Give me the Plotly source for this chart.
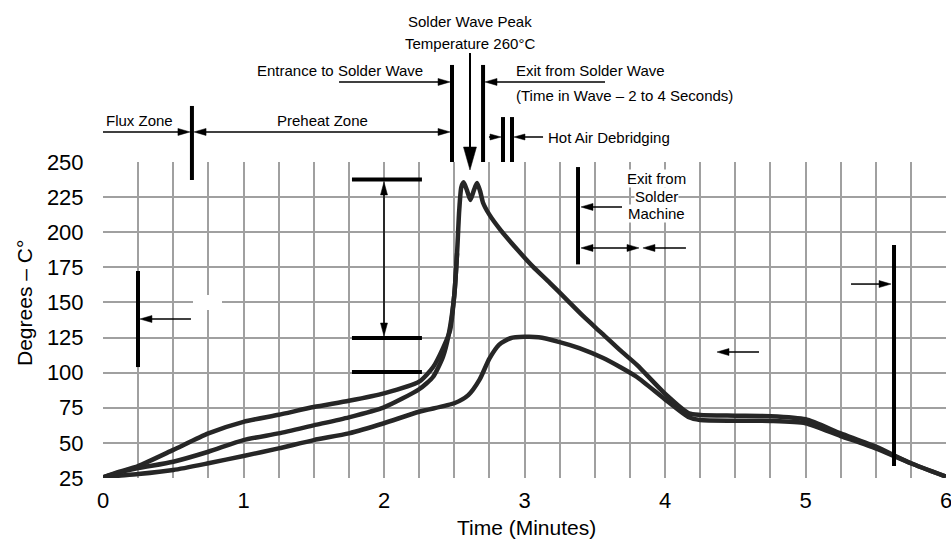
import math
import plotly.graph_objects as go

# ---------------- data (minutes, degrees C) ----------------
upper_time = [0, 0.1, 0.25, 0.5, 0.75, 1.0, 1.25, 1.5, 1.75, 2.0, 2.25, 2.35, 2.42, 2.47,
              2.5, 2.52, 2.535, 2.55, 2.567, 2.59, 2.615, 2.64, 2.662, 2.685, 2.705, 2.75,
              2.83, 2.95, 3.06, 3.18, 3.30, 3.42, 3.54, 3.68, 3.80, 4.0, 4.17, 4.25, 4.5,
              4.75, 5.0, 5.25, 5.5, 5.75, 6.0]
upper_temp = [25.5, 29, 33.5, 45, 56.8, 65, 70, 75.5, 80, 85.3, 93.6, 104, 117.5, 130,
              155, 185, 215, 232, 235.5, 230, 223, 230, 235, 229, 221, 212.5,
              201.5, 187.5, 175.5, 164, 152, 140, 129, 116, 105.5, 85, 71, 69.9, 69.4,
              69, 66.8, 56.8, 47.3, 35.5, 26]

middle_time = [0, 0.1, 0.25, 0.5, 0.75, 1.0, 1.25, 1.5, 1.75, 2.0, 2.25, 2.35, 2.42, 2.46, 2.5, 2.52]
middle_temp = [25.5, 28.5, 32, 36.6, 43.7, 52, 56.8, 62.5, 68.2, 75.3, 88.2, 97.1, 111.4, 127, 155, 185]

lower_time = [0, 0.1, 0.25, 0.5, 0.75, 1.0, 1.25, 1.5, 1.75, 2.0, 2.25, 2.5, 2.6, 2.68, 2.75,
              2.82, 2.9, 3.0, 3.1, 3.25, 3.39, 3.56, 3.68, 3.80, 4.0, 4.17, 4.25, 4.5, 4.75,
              5.0, 5.25, 5.5, 5.75, 6.0]
lower_temp = [25.5, 26.5, 27.8, 30.7, 35.5, 40.7, 46.1, 52, 56.8, 64, 72.2, 78.2, 84, 95, 110,
              120, 124.5, 125.5, 125.2, 121.8, 117.5, 110.4, 104, 96.9, 81, 68.2, 66.3, 65.8, 65.6,
              64, 54.9, 46.1, 35.5, 26]

x_tick_vals = [0, 1, 2, 3, 4, 5, 6]
x_tick_labels = ["0", "1", "2", "3", "4", "5", "6"]
y_tick_vals = [25, 50, 75, 100, 125, 150, 175, 200, 225, 250]
y_tick_labels = ["25", "50", "75", "100", "125", "150", "175", "200", "225", "250"]

# ---------------- geometry helpers ----------------
FIG_W, FIG_H = 951, 542
L, R, TOP, BOT = 103, 946, 162, 478
PW, PH = R - L, BOT - TOP
XMIN, XMAX, YMIN, YMAX = 0, 6, 25, 250
FONT = "Liberation Sans, Arial, Helvetica, sans-serif"
GRID = "#a0a0a0"
CURVE = "#262626"


def to_px(m, t):
    return L + (m - XMIN) * PW / (XMAX - XMIN), BOT - (t - YMIN) * PH / (YMAX - YMIN)


def to_paper(x, y):
    return (x - L) / PW, (BOT - y) / PH


shapes = []
annotations = []


def bar(m0, t0, m1, t1, width=4):
    x0, y0 = to_paper(*to_px(m0, t0))
    x1, y1 = to_paper(*to_px(m1, t1))
    shapes.append(dict(type="line", xref="paper", yref="paper", x0=x0, y0=y0, x1=x1, y1=y1,
                       line=dict(color="black", width=width)))


def head(tip, d, hl, hw):
    bx, by = tip[0] - d[0] * hl, tip[1] - d[1] * hl
    p = (-d[1], d[0])
    pts = [tip, (bx + p[0] * hw, by + p[1] * hw), (bx - p[0] * hw, by - p[1] * hw)]
    pp = [to_paper(*q) for q in pts]
    path = "M{:.5f},{:.5f} L{:.5f},{:.5f} L{:.5f},{:.5f} Z".format(*pp[0], *pp[1], *pp[2])
    shapes.append(dict(type="path", xref="paper", yref="paper", path=path,
                       fillcolor="black", line=dict(color="black", width=0.5)))


def arrow(m0, t0, m1, t1, hl=12, hw=3.5, lw=1.5, both=False):
    p0 = to_px(m0, t0)
    p1 = to_px(m1, t1)
    dx, dy = p1[0] - p0[0], p1[1] - p0[1]
    n = math.hypot(dx, dy)
    d = (dx / n, dy / n)
    s0 = (p0[0] + d[0] * hl * 0.7, p0[1] + d[1] * hl * 0.7) if both else p0
    s1 = (p1[0] - d[0] * hl * 0.7, p1[1] - d[1] * hl * 0.7)
    a0 = to_paper(*s0)
    a1 = to_paper(*s1)
    shapes.append(dict(type="line", xref="paper", yref="paper", x0=a0[0], y0=a0[1],
                       x1=a1[0], y1=a1[1], line=dict(color="black", width=lw)))
    head(p1, d, hl, hw)
    if both:
        head(p0, (-d[0], -d[1]), hl, hw)


def text(m, t, s, anchor="center", size=15, bg=None):
    x, y = to_paper(*to_px(m, t))
    a = dict(xref="paper", yref="paper", x=x, y=y, text=s, showarrow=False,
             xanchor=anchor, yanchor="middle", font=dict(size=size, color="black", family=FONT))
    if bg:
        a.update(bgcolor=bg, borderpad=0)
    annotations.append(a)


# ---------------- figure ----------------
fig = go.Figure()
for tt, vv in [(lower_time, lower_temp), (middle_time, middle_temp), (upper_time, upper_temp)]:
    fig.add_trace(go.Scatter(x=tt, y=vv, mode="lines", hoverinfo="skip", showlegend=False,
                             line=dict(color=CURVE, width=4.5, shape="spline", smoothing=0.6)))

# white patch in the grid
x0, y0 = to_paper(193, 310)
x1, y1 = to_paper(222, 295)
shapes.append(dict(type="rect", xref="paper", yref="paper", x0=x0, y0=y0, x1=x1, y1=y1,
                   fillcolor="white", line=dict(width=0), layer="above"))

# zone bars above the plot
bar(0.633, 289.9, 0.633, 237.2)
bar(2.484, 319.1, 2.484, 250)
bar(2.705, 319.1, 2.705, 250)
bar(2.847, 282, 2.847, 250)
bar(2.911, 282, 2.911, 250)

# arrows above the plot
arrow(2.612, 327.6, 2.612, 244.3, hl=23, hw=6.5, lw=2)
arrow(1.680, 307, 2.470, 307)
arrow(3.573, 307, 2.719, 307)
arrow(0.0, 271.4, 0.619, 271.4)
arrow(0.648, 271.4, 2.470, 271.4, both=True)
arrow(2.747, 267.8, 2.833, 267.8, hl=11, hw=3)
arrow(3.132, 267.8, 2.925, 267.8, hl=11, hw=3)

# bars inside the plot
bar(1.772, 237.5, 2.270, 237.5)
bar(1.772, 124.7, 2.270, 124.7)
bar(1.772, 100.5, 2.270, 100.5)
bar(3.381, 246.4, 3.381, 177.1)
bar(5.630, 190.9, 5.630, 33.5)
bar(0.249, 172.4, 0.249, 104.0)

# arrows inside the plot
arrow(2.0, 235.8, 2.0, 126.1, both=True, hl=13)
arrow(3.694, 218.0, 3.402, 218.0)
arrow(3.402, 188.8, 3.815, 188.8, both=True)
arrow(4.149, 188.8, 3.843, 188.8)
arrow(4.669, 114.7, 4.370, 114.7)
arrow(5.324, 163.1, 5.609, 163.1)
arrow(0.626, 138.2, 0.263, 138.2)

# texts
text(2.612, 349.7, "Solder Wave Peak")
text(2.612, 334.7, "Temperature 260°C")
text(2.292, 314.8, "Entrance to Solder Wave", anchor="right")
text(2.925, 315.5, "Exit from Solder Wave", anchor="left")
text(2.925, 297.7, "(Time in Wave – 2 to 4 Seconds)", anchor="left")
text(0.010, 279.9, "Flux Zone", anchor="left")
text(1.559, 279.9, "Preheat Zone")
text(3.155, 267.8, "Hot Air Debridging", anchor="left")
text(3.936, 237.9, "Exit from", bg="white")
text(3.936, 225.1, "Solder", bg="white")
text(3.936, 213.0, "Machine", bg="white")

# axis titles
xt = to_paper(526, 527)
annotations.append(dict(xref="paper", yref="paper", x=xt[0], y=xt[1], text="Time (Minutes)",
                        showarrow=False, xanchor="center", yanchor="middle",
                        font=dict(size=21, color="black", family=FONT)))
yt = to_paper(24, 303)
annotations.append(dict(xref="paper", yref="paper", x=yt[0], y=yt[1], text="Degrees – C°",
                        showarrow=False, xanchor="center", yanchor="middle", textangle=-90,
                        font=dict(size=21, color="black", family=FONT)))

fig.update_layout(
    width=FIG_W, height=FIG_H,
    margin=dict(l=L, r=FIG_W - R, t=TOP, b=FIG_H - BOT, pad=0),
    plot_bgcolor="white", paper_bgcolor="white",
    showlegend=False,
    font=dict(family=FONT, color="black"),
    shapes=shapes, annotations=annotations,
)
fig.update_xaxes(range=[XMIN, XMAX], tickmode="array", tickvals=x_tick_vals, ticktext=x_tick_labels,
                 showgrid=True, gridcolor=GRID, gridwidth=1.5,
                 minor=dict(tickmode="linear", tick0=0, dtick=0.25, showgrid=True,
                            gridcolor=GRID, gridwidth=1.5),
                 zeroline=False, showline=False, ticks="outside", ticklen=3,
                 tickcolor="rgba(0,0,0,0)", tickfont=dict(size=22, color="black", family=FONT),
                 ticklabeloverflow="allow", automargin=False)
fig.update_yaxes(range=[YMIN, YMAX], tickmode="array", tickvals=y_tick_vals, ticktext=y_tick_labels,
                 showgrid=True, gridcolor=GRID, gridwidth=1.5,
                 zeroline=False, showline=False, ticks="outside", ticklen=14,
                 tickcolor="rgba(0,0,0,0)", tickfont=dict(size=22, color="black", family=FONT),
                 ticklabeloverflow="allow", automargin=False)

fig.write_html("out.html", config={"displayModeBar": False},
               post_script="document.body.style.margin='0';document.body.style.overflow='hidden';")
